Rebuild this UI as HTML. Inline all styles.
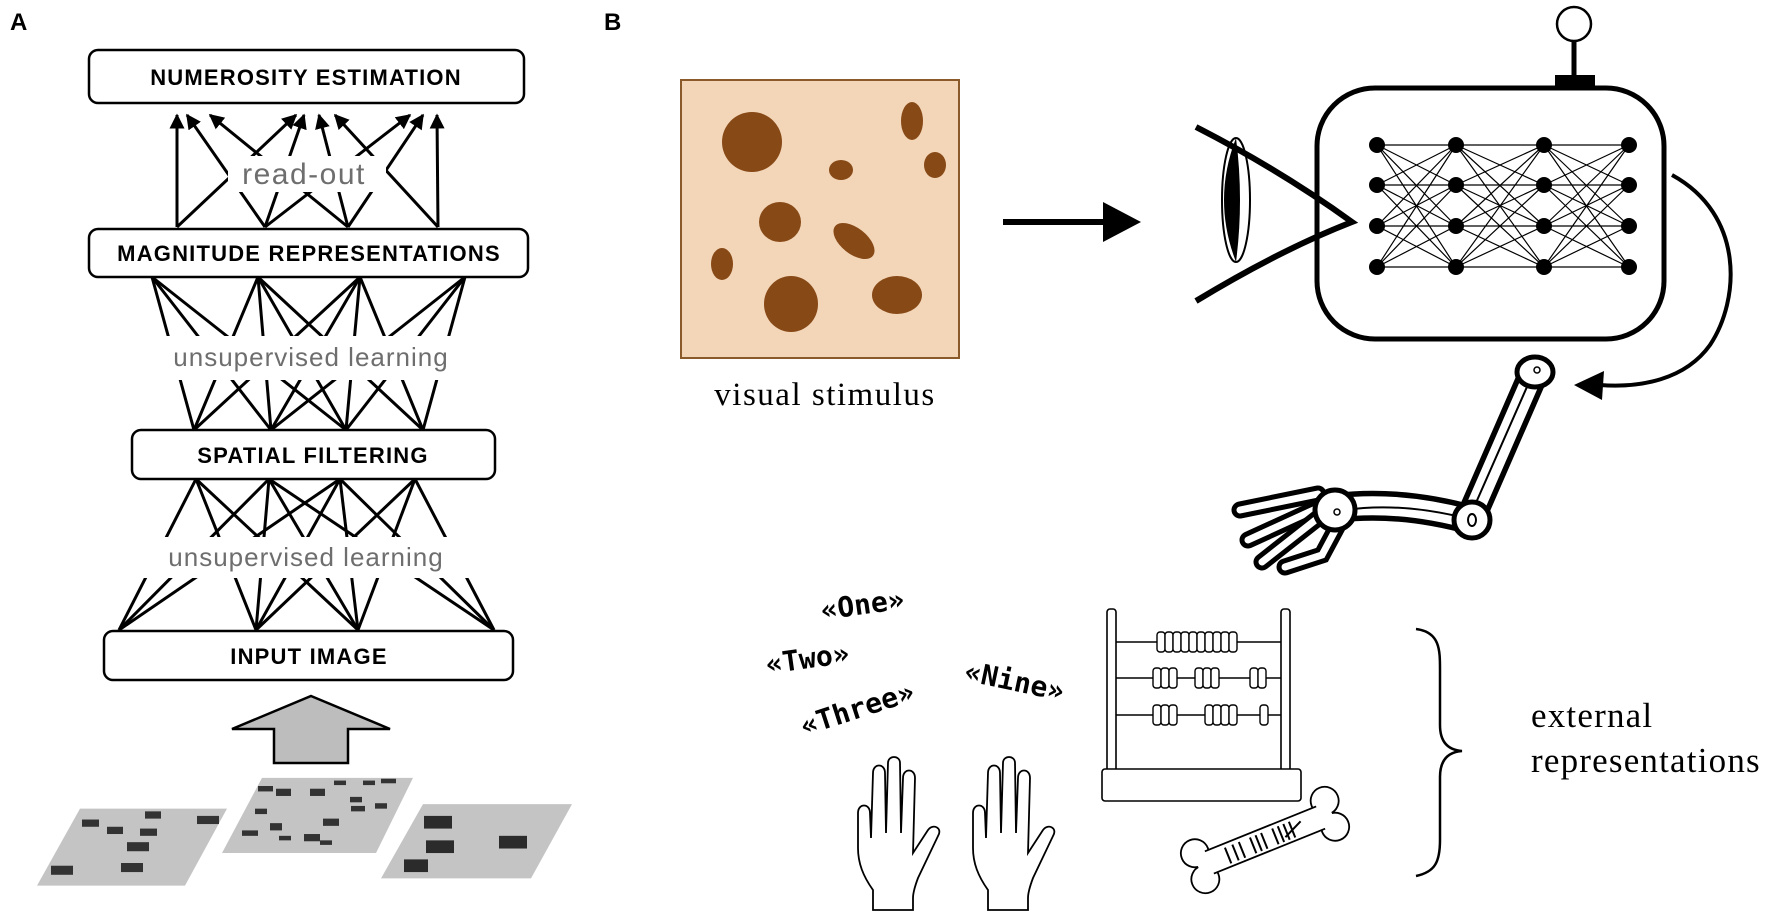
<!DOCTYPE html>
<html><head><meta charset="utf-8"><style>
html,body{margin:0;padding:0;background:#fff;}
svg{display:block;}
</style></head><body>
<svg width="1772" height="920" viewBox="0 0 1772 920" xmlns="http://www.w3.org/2000/svg">
<defs>
<marker id="ah" viewBox="0 0 10 10" refX="9" refY="5" markerWidth="5" markerHeight="5" orient="auto"><path d="M0,0 L10,5 L0,10 z" fill="#000"/></marker>
</defs>
<rect width="1772" height="920" fill="#fff"/>
<!-- Panel A -->
<text x="10" y="30" font-family="Liberation Sans, sans-serif" font-weight="bold" font-size="24">A</text>

<g stroke="#000" stroke-width="3" fill="none">
<line x1="177" y1="227" x2="177" y2="115" marker-end="url(#ah)"/>
<line x1="177" y1="227" x2="296" y2="115" marker-end="url(#ah)"/>
<line x1="265" y1="227" x2="187" y2="115" marker-end="url(#ah)"/>
<line x1="265" y1="227" x2="304" y2="115" marker-end="url(#ah)"/>
<line x1="265" y1="227" x2="410" y2="115" marker-end="url(#ah)"/>
<line x1="348" y1="227" x2="210" y2="115" marker-end="url(#ah)"/>
<line x1="348" y1="227" x2="319" y2="115" marker-end="url(#ah)"/>
<line x1="348" y1="227" x2="423" y2="115" marker-end="url(#ah)"/>
<line x1="438" y1="227" x2="335" y2="115" marker-end="url(#ah)"/>
<line x1="438" y1="227" x2="437" y2="115" marker-end="url(#ah)"/>
<line x1="152" y1="277" x2="194" y2="430"/><line x1="152" y1="277" x2="271" y2="430"/><line x1="152" y1="277" x2="346" y2="430"/>
<line x1="258" y1="277" x2="194" y2="430"/><line x1="258" y1="277" x2="271" y2="430"/><line x1="258" y1="277" x2="346" y2="430"/><line x1="258" y1="277" x2="423" y2="430"/>
<line x1="360" y1="277" x2="194" y2="430"/><line x1="360" y1="277" x2="271" y2="430"/><line x1="360" y1="277" x2="346" y2="430"/><line x1="360" y1="277" x2="423" y2="430"/>
<line x1="465" y1="277" x2="271" y2="430"/><line x1="465" y1="277" x2="346" y2="430"/><line x1="465" y1="277" x2="423" y2="430"/>
<line x1="196" y1="479" x2="119" y2="630"/><line x1="196" y1="479" x2="256" y2="630"/><line x1="196" y1="479" x2="358" y2="630"/>
<line x1="269" y1="479" x2="119" y2="630"/><line x1="269" y1="479" x2="256" y2="630"/><line x1="269" y1="479" x2="358" y2="630"/><line x1="269" y1="479" x2="494" y2="630"/>
<line x1="340" y1="479" x2="119" y2="630"/><line x1="340" y1="479" x2="256" y2="630"/><line x1="340" y1="479" x2="358" y2="630"/><line x1="340" y1="479" x2="494" y2="630"/>
<line x1="415" y1="479" x2="256" y2="630"/><line x1="415" y1="479" x2="358" y2="630"/><line x1="415" y1="479" x2="494" y2="630"/>
</g>
<rect x="228" y="156" width="158" height="36" fill="#fff"/>
<rect x="100" y="336" width="420" height="44" fill="#fff"/>
<rect x="100" y="537" width="420" height="41" fill="#fff"/>
<g font-family="Liberation Sans, sans-serif" fill="#6e6e6e" text-anchor="middle" letter-spacing="1">
<text x="304" y="184" font-size="30" letter-spacing="1.5">read-out</text>
<text x="311" y="366" font-size="26">unsupervised learning</text>
<text x="306" y="566" font-size="26">unsupervised learning</text>
</g>
<g stroke="#000" stroke-width="2.5" fill="#fff">
<rect x="89" y="50" width="435" height="53" rx="9"/>
<rect x="89" y="229" width="439" height="48" rx="9"/>
<rect x="132" y="430" width="363" height="49" rx="9"/>
<rect x="104" y="631" width="409" height="49" rx="9"/>
</g>
<g font-family="Liberation Sans, sans-serif" font-weight="bold" font-size="22" text-anchor="middle" fill="#000" letter-spacing="1.2" style="white-space:pre">
<text x="306" y="85">NUMEROSITY  ESTIMATION</text>
<text x="309" y="261">MAGNITUDE REPRESENTATIONS</text>
<text x="313" y="463">SPATIAL  FILTERING</text>
<text x="309" y="664">INPUT IMAGE</text>
</g>
<path d="M311,696 L390,729 L348,729 L348,763 L274,763 L274,729 L232,729 Z" fill="#bdbdbd" stroke="#000" stroke-width="2.5"/>
<g transform="translate(0,680) scale(1,0.906) translate(0,-680)">
<polygon points="37,907 80,822 227,822 185,907" fill="#c4c4c4"/>
<polygon points="222,871 262,788 413,788 376,871" fill="#c4c4c4"/>
<polygon points="381,899 423,817 572,817 531,899" fill="#c4c4c4"/>
<g fill="#333">
<rect x="82" y="834" width="17" height="8"/><rect x="107" y="842" width="16" height="8"/><rect x="145" y="825" width="16" height="8"/><rect x="140" y="844" width="17" height="8"/>
<rect x="127" y="859" width="22" height="10"/><rect x="197" y="830" width="22" height="9"/><rect x="51" y="885" width="22" height="10"/><rect x="121" y="882" width="22" height="10"/>
<rect x="258" y="797" width="15" height="6"/><rect x="276" y="800" width="15" height="8"/><rect x="310" y="800" width="15" height="8"/><rect x="334" y="791" width="12" height="5"/><rect x="363" y="791" width="12" height="5"/><rect x="381" y="789" width="15" height="5"/>
<rect x="350" y="809" width="12" height="6"/><rect x="351" y="819" width="14" height="6"/><rect x="375" y="816" width="12" height="6"/><rect x="255" y="822" width="12" height="6"/>
<rect x="323" y="833" width="16" height="8"/><rect x="270" y="838" width="12" height="8"/><rect x="242" y="846" width="16" height="6"/><rect x="279" y="852" width="12" height="5"/><rect x="304" y="850" width="16" height="8"/><rect x="320" y="857" width="12" height="5"/>
</g>
<g fill="#2b2b2b">
<rect x="424" y="830" width="28" height="14"/><rect x="426" y="857" width="28" height="14"/><rect x="499" y="852" width="28" height="14"/><rect x="404" y="878" width="24" height="14"/>
</g>
</g>

<!-- Panel B -->
<text x="604" y="30" font-family="Liberation Sans, sans-serif" font-weight="bold" font-size="24">B</text>
<rect x="681" y="80" width="278" height="278" fill="#f3d5b7" stroke="#8b5a2b" stroke-width="2"/>
<g fill="#874916">
<ellipse cx="752" cy="142" rx="30" ry="30"/>
<ellipse cx="912" cy="121" rx="11" ry="19"/>
<ellipse cx="841" cy="170" rx="12" ry="10"/>
<ellipse cx="935" cy="165" rx="11" ry="13"/>
<ellipse cx="780" cy="222" rx="21" ry="20"/>
<ellipse cx="854" cy="241" rx="24" ry="13" transform="rotate(38 854 241)"/>
<ellipse cx="722" cy="264" rx="11" ry="16"/>
<ellipse cx="791" cy="304" rx="27" ry="28"/>
<ellipse cx="897" cy="295" rx="25" ry="19"/>
</g>
<text x="825" y="405" font-family="Liberation Serif, serif" font-size="33" text-anchor="middle" letter-spacing="1.5">visual stimulus</text>
<line x1="1003" y1="222" x2="1105" y2="222" stroke="#000" stroke-width="6"/>
<polygon points="1103,202 1141,222 1103,242" fill="#000"/>
<!-- box -->
<line x1="1574" y1="42" x2="1574" y2="76" stroke="#000" stroke-width="5"/>
<circle cx="1574" cy="24" r="17" fill="#fff" stroke="#000" stroke-width="2.5"/>
<rect x="1555" y="75" width="40" height="12" fill="#000"/>
<rect x="1317" y="88" width="347" height="251" rx="58" fill="#fff" stroke="#000" stroke-width="5"/>
<path stroke="#000" stroke-width="1.2" fill="none" d="
M1377 145L1456 145M1377 145L1456 185M1377 145L1456 226M1377 145L1456 267
M1377 185L1456 145M1377 185L1456 185M1377 185L1456 226M1377 185L1456 267
M1377 226L1456 145M1377 226L1456 185M1377 226L1456 226M1377 226L1456 267
M1377 267L1456 145M1377 267L1456 185M1377 267L1456 226M1377 267L1456 267
M1456 145L1544 145M1456 145L1544 185M1456 145L1544 226M1456 145L1544 267
M1456 185L1544 145M1456 185L1544 185M1456 185L1544 226M1456 185L1544 267
M1456 226L1544 145M1456 226L1544 185M1456 226L1544 226M1456 226L1544 267
M1456 267L1544 145M1456 267L1544 185M1456 267L1544 226M1456 267L1544 267
M1544 145L1629 145M1544 145L1629 185M1544 145L1629 226M1544 145L1629 267
M1544 185L1629 145M1544 185L1629 185M1544 185L1629 226M1544 185L1629 267
M1544 226L1629 145M1544 226L1629 185M1544 226L1629 226M1544 226L1629 267
M1544 267L1629 145M1544 267L1629 185M1544 267L1629 226M1544 267L1629 267"/>
<g fill="#000">
<circle cx="1377" cy="145" r="8"/><circle cx="1377" cy="185" r="8"/><circle cx="1377" cy="226" r="8"/><circle cx="1377" cy="267" r="8"/>
<circle cx="1456" cy="145" r="8"/><circle cx="1456" cy="185" r="8"/><circle cx="1456" cy="226" r="8"/><circle cx="1456" cy="267" r="8"/>
<circle cx="1544" cy="145" r="8"/><circle cx="1544" cy="185" r="8"/><circle cx="1544" cy="226" r="8"/><circle cx="1544" cy="267" r="8"/>
<circle cx="1629" cy="145" r="8"/><circle cx="1629" cy="185" r="8"/><circle cx="1629" cy="226" r="8"/><circle cx="1629" cy="267" r="8"/>
</g>
<!-- eye -->
<path d="M1196,127 Q1280,170 1352,222 Q1280,250 1196,301" fill="none" stroke="#000" stroke-width="6"/>
<ellipse cx="1236" cy="200" rx="14" ry="62" fill="none" stroke="#000" stroke-width="2"/>
<path d="M1236,138 Q1212,200 1236,262 Q1244,200 1236,138 Z" fill="#000"/>
<!-- curved arrow -->
<path d="M1672,175 C1745,215 1740,300 1710,345 C1685,380 1640,388 1600,385" fill="none" stroke="#000" stroke-width="4"/>
<polygon points="1574,385 1604,371 1602,400" fill="#000"/>
<!-- robot arm -->
<g stroke="#000" stroke-linecap="round" fill="none">
<line x1="1533" y1="375" x2="1472" y2="515" stroke-width="30"/>
<line x1="1533" y1="375" x2="1472" y2="515" stroke-width="19" stroke="#fff"/>
<line x1="1530" y1="380" x2="1475" y2="505" stroke-width="2"/>
<path d="M1472,520 Q1400,500 1335,508" stroke-width="30"/>
<path d="M1472,520 Q1400,500 1335,508" stroke-width="19" stroke="#fff"/>
<path d="M1465,518 Q1400,502 1345,510" stroke-width="2"/>
<path d="M1318,494 L1240,510" stroke-width="17"/><path d="M1318,494 L1240,510" stroke-width="7" stroke="#fff"/>
<path d="M1318,508 L1248,540" stroke-width="17"/><path d="M1318,508 L1248,540" stroke-width="7" stroke="#fff"/>
<path d="M1318,518 L1262,562" stroke-width="17"/><path d="M1318,518 L1262,562" stroke-width="7" stroke="#fff"/>
<path d="M1337,527 L1322,555 L1285,567" stroke-width="17"/><path d="M1337,527 L1322,555 L1285,567" stroke-width="7" stroke="#fff"/>
</g>
<ellipse cx="1535" cy="372" rx="18" ry="15" fill="#fff" stroke="#000" stroke-width="5"/>
<circle cx="1537" cy="370" r="3" fill="none" stroke="#000" stroke-width="1.5"/>
<circle cx="1472" cy="520" r="18" fill="#fff" stroke="#000" stroke-width="5"/>
<ellipse cx="1472" cy="520" rx="4" ry="6" fill="none" stroke="#000" stroke-width="2"/>
<circle cx="1335" cy="510" r="20" fill="#fff" stroke="#000" stroke-width="5"/>
<circle cx="1337" cy="512" r="3" fill="none" stroke="#000" stroke-width="1.5"/>
<!-- words -->
<g font-family="DejaVu Sans Mono, Liberation Mono, monospace" font-weight="bold" font-size="28" fill="#000">
<text x="822" y="620" transform="rotate(-8 822 620)">«One»</text>
<text x="767" y="674" transform="rotate(-8 767 674)">«Two»</text>
<text x="804" y="736" transform="rotate(-18 804 736)">«Three»</text>
<text x="963" y="680" transform="rotate(12 963 680)">«Nine»</text>
</g>
<!-- hands -->
<g fill="#fff" stroke="#000" stroke-width="1.8">
<path transform="translate(853,758)" d="M20,152 L20,132 C10,118 5,105 5,90 L5,55 C5,45 17,45 17,55 L18,80 L20,15 C20,5 32,5 32,15 L33,75 L35,5 C35,-3 47,-3 47,5 L48,75 L50,20 C50,10 62,10 62,20 L60,95 L75,72 C80,65 90,70 85,78 L65,120 C62,128 60,135 60,140 L60,152 Z"/>
<path transform="translate(968,758)" d="M20,152 L20,132 C10,118 5,105 5,90 L5,55 C5,45 17,45 17,55 L18,80 L20,15 C20,5 32,5 32,15 L33,75 L35,5 C35,-3 47,-3 47,5 L48,75 L50,20 C50,10 62,10 62,20 L60,95 L75,72 C80,65 90,70 85,78 L65,120 C62,128 60,135 60,140 L60,152 Z"/>
</g>
<!-- abacus -->
<g stroke="#000" stroke-width="1.6" fill="#fff">
<rect x="1107" y="609" width="9" height="162" rx="3"/>
<rect x="1281" y="609" width="9" height="162" rx="3"/>
<line x1="1116" y1="642" x2="1281" y2="642"/><line x1="1116" y1="678" x2="1281" y2="678"/><line x1="1116" y1="715" x2="1281" y2="715"/>
<rect x="1102" y="769" width="199" height="32" rx="3"/>
</g>
<g stroke="#000" stroke-width="1.4" fill="#fff">
<rect x="1157" y="632" width="8" height="20" rx="3"/><rect x="1165" y="632" width="8" height="20" rx="3"/><rect x="1173" y="632" width="8" height="20" rx="3"/><rect x="1181" y="632" width="8" height="20" rx="3"/><rect x="1189" y="632" width="8" height="20" rx="3"/><rect x="1197" y="632" width="8" height="20" rx="3"/><rect x="1205" y="632" width="8" height="20" rx="3"/><rect x="1213" y="632" width="8" height="20" rx="3"/><rect x="1221" y="632" width="8" height="20" rx="3"/><rect x="1229" y="632" width="8" height="20" rx="3"/>
<rect x="1153" y="668" width="8" height="20" rx="3"/><rect x="1161" y="668" width="8" height="20" rx="3"/><rect x="1169" y="668" width="8" height="20" rx="3"/><rect x="1195" y="668" width="8" height="20" rx="3"/><rect x="1203" y="668" width="8" height="20" rx="3"/><rect x="1211" y="668" width="8" height="20" rx="3"/><rect x="1250" y="668" width="8" height="20" rx="3"/><rect x="1258" y="668" width="8" height="20" rx="3"/>
<rect x="1153" y="705" width="8" height="20" rx="3"/><rect x="1161" y="705" width="8" height="20" rx="3"/><rect x="1169" y="705" width="8" height="20" rx="3"/><rect x="1205" y="705" width="8" height="20" rx="3"/><rect x="1213" y="705" width="8" height="20" rx="3"/><rect x="1221" y="705" width="8" height="20" rx="3"/><rect x="1229" y="705" width="8" height="20" rx="3"/><rect x="1260" y="705" width="8" height="20" rx="3"/>
</g>
<!-- bone -->
<g transform="rotate(-22 1265 840)" stroke="#000" stroke-width="1.8">
<circle cx="1195" cy="826" r="14" fill="#fff"/><circle cx="1195" cy="854" r="14" fill="#fff"/>
<circle cx="1335" cy="826" r="14" fill="#fff"/><circle cx="1335" cy="854" r="14" fill="#fff"/>
<rect x="1193" y="828" width="144" height="24" fill="#fff" stroke="none"/>
<line x1="1205" y1="828" x2="1325" y2="828"/><line x1="1205" y1="852" x2="1325" y2="852"/>
<g stroke-width="2"><line x1="1225" y1="832" x2="1225" y2="849"/><line x1="1233" y1="832" x2="1233" y2="849"/><line x1="1240" y1="832" x2="1240" y2="849"/><line x1="1252" y1="832" x2="1252" y2="849"/><line x1="1258" y1="832" x2="1258" y2="849"/><line x1="1264" y1="832" x2="1264" y2="849"/><line x1="1276" y1="832" x2="1276" y2="849"/><line x1="1282" y1="832" x2="1282" y2="849"/><line x1="1288" y1="832" x2="1288" y2="849"/><line x1="1294" y1="832" x2="1294" y2="849"/><line x1="1285" y1="845" x2="1305" y2="836"/></g>
</g>
<!-- brace -->
<path d="M1416,629 C1440,632 1440,650 1440,670 L1440,725 C1440,742 1448,750 1462,751 C1448,752 1440,760 1440,777 L1440,840 C1440,862 1435,872 1416,876" fill="none" stroke="#000" stroke-width="2.5"/>
<g font-family="Liberation Serif, serif" font-size="35" fill="#000" letter-spacing="1.2">
<text x="1531" y="727">external</text>
<text x="1531" y="772">representations</text>
</g>
</svg>
</body></html>
